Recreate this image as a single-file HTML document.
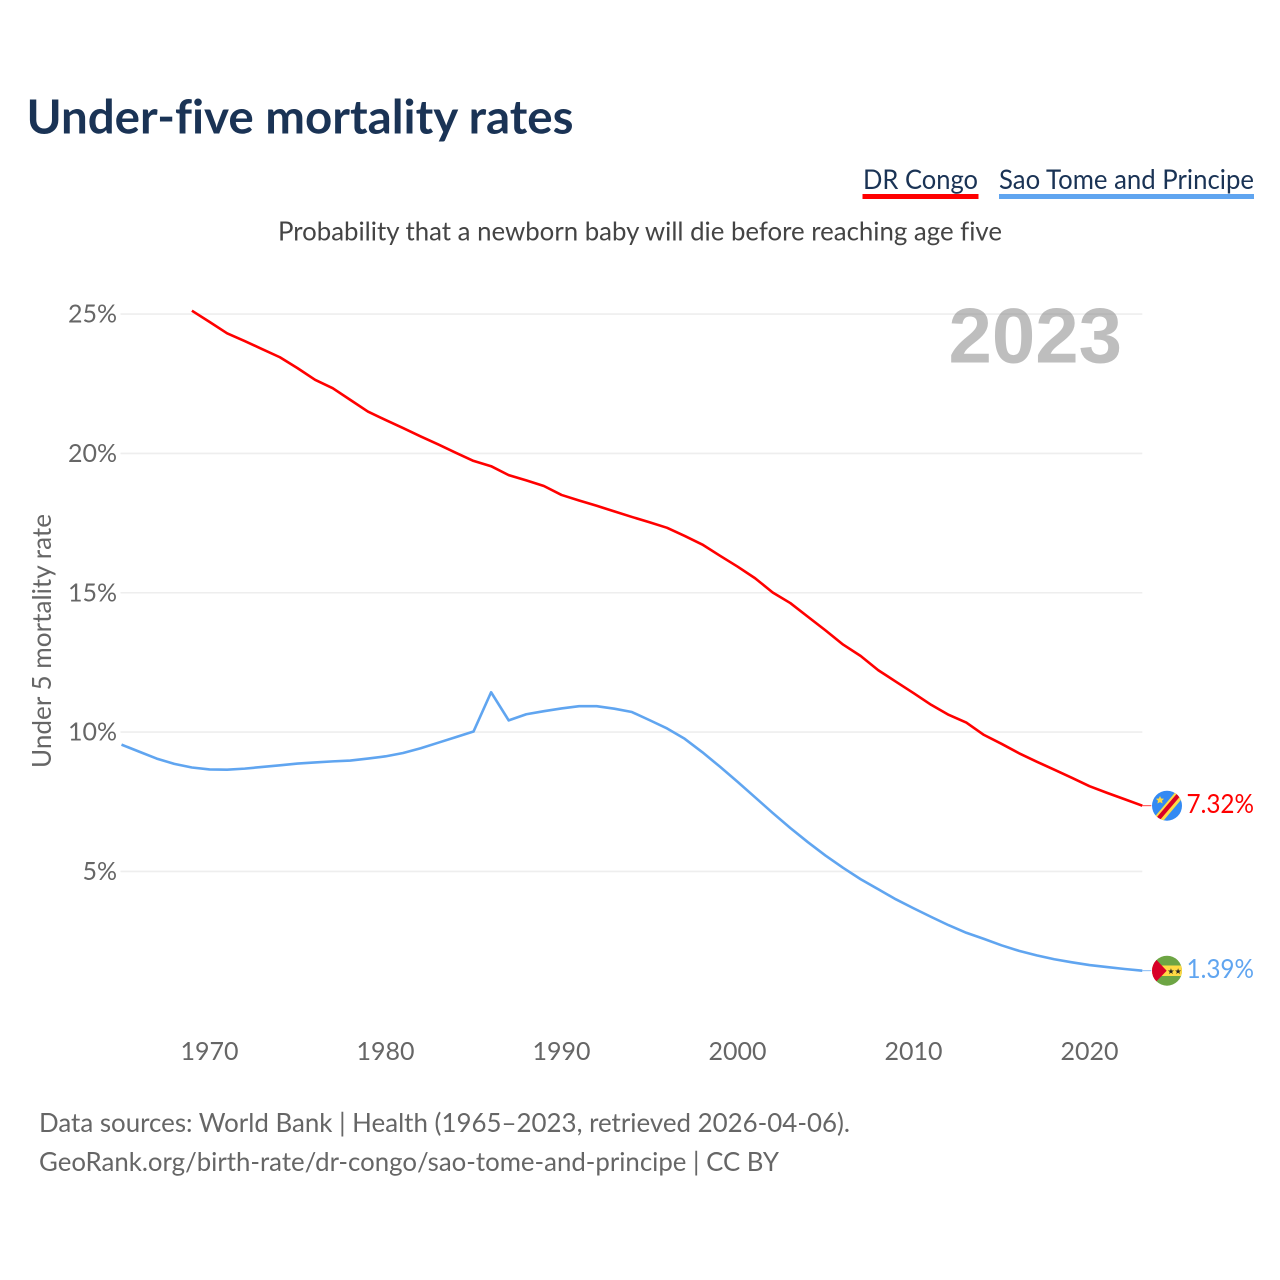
<!DOCTYPE html>
<html lang="en">
<head>
<meta charset="utf-8">
<title>Under-five mortality rates</title>
<style>
html,body{margin:0;padding:0;background:#fff;width:1280px;height:1280px;overflow:hidden}
svg{display:block}
text{font-family:"Lato","Carlito","Liberation Sans",sans-serif;font-variant-ligatures:none}
</style>
</head>
<body>
<svg id="chart" xmlns="http://www.w3.org/2000/svg" width="1280" height="1280" viewBox="0 0 1280 1280">
  <rect width="1280" height="1280" fill="#fff"/>
  <text x="26.5" y="133.5" font-size="47" font-weight="700" fill="#1a3355" textLength="547" lengthAdjust="spacingAndGlyphs">Under-five mortality rates</text>

  <g>
    <g>
      <text x="863" y="189" font-size="27" fill="#1a3355" textLength="115" lengthAdjust="spacingAndGlyphs">DR Congo</text>
      <rect x="862.5" y="194" width="116" height="5" fill="#ff0000"/>
    </g>
    <g>
      <text x="999" y="189" font-size="27" fill="#1a3355" textLength="255" lengthAdjust="spacingAndGlyphs">Sao Tome and Principe</text>
      <rect x="999" y="194" width="255" height="5" fill="#60a5f0"/>
    </g>
  </g>

  <text x="278" y="240.5" font-size="26" fill="#444" textLength="724" lengthAdjust="spacingAndGlyphs">Probability that a newborn baby will die before reaching age five</text>
  <text transform="translate(51,768) rotate(-90)" font-size="26" fill="#666" textLength="254" lengthAdjust="spacingAndGlyphs">Under 5 mortality rate</text>

  <g id="grid"></g>
  <g id="yticks"></g>
  <g id="xticks"></g>

  <text x="1122" y="362.5" font-size="78" font-weight="700" fill="#888888" fill-opacity="0.55" text-anchor="end" style="font-family:'Liberation Sans',sans-serif">2023</text>

  <g id="series"></g>

  <g>
    <clipPath id="clipCd"><circle cx="1167" cy="805.7" r="15"/></clipPath>
    <g clip-path="url(#clipCd)">
      <rect x="1150" y="788" width="34" height="36" fill="#338af3"/>
      <polygon points="1152,820 1178,789 1185,795 1159,826" fill="#ffda44"/>
      <polygon points="1154,820.5 1180,790 1183,793 1157,823.5" fill="#d80027"/>
      <polygon points="1160,796 1161.2,798.5 1164,798.8 1162,800.7 1162.6,803.5 1160,802.1 1157.4,803.5 1158,800.7 1156,798.8 1158.8,798.5" fill="#ffda44"/>
    </g>
  </g>
  <g>
    <clipPath id="clipSt"><circle cx="1167" cy="970.7" r="15"/></clipPath>
    <g clip-path="url(#clipSt)">
      <rect x="1150" y="953" width="34" height="36" fill="#6da544"/>
      <rect x="1150" y="965.5" width="34" height="10.5" fill="#ffda44"/>
      <polygon points="1150,953 1166.7,970.7 1150,988" fill="#d80027"/>
      <text x="1174.5" y="974" font-size="8" text-anchor="middle" fill="#222" style="font-family:'DejaVu Sans',sans-serif">★★</text>
    </g>
  </g>

  <text id="labelCd" x="1186.5" y="813" font-size="26" fill="#ff0000" textLength="67.5" lengthAdjust="spacingAndGlyphs"></text>
  <text id="labelSt" x="1186.5" y="978" font-size="26" fill="#60a5f0" textLength="67.5" lengthAdjust="spacingAndGlyphs"></text>

  <text x="39" y="1132" font-size="26" fill="#666" textLength="811" lengthAdjust="spacingAndGlyphs">Data sources: World Bank | Health (1965–2023, retrieved 2026-04-06).</text>
  <a><text x="39" y="1171" font-size="26" fill="#666" textLength="740" lengthAdjust="spacingAndGlyphs">GeoRank.org/birth-rate/dr-congo/sao-tome-and-principe | CC BY</text></a>
</svg>
<script>
const yTickValues = [5, 10, 15, 20, 25];
const xTickYears = [1970, 1980, 1990, 2000, 2010, 2020];
const congoStartYear = 1969;
const congoValues = [25.12,24.72,24.31,24.03,23.74,23.45,23.06,22.64,22.34,21.92,21.50,21.20,20.91,20.61,20.32,20.02,19.73,19.54,19.22,19.03,18.83,18.51,18.31,18.12,17.92,17.72,17.53,17.33,17.04,16.73,16.33,15.94,15.52,15.01,14.63,14.14,13.65,13.14,12.73,12.22,11.81,11.40,10.98,10.62,10.34,9.90,9.58,9.24,8.94,8.65,8.36,8.06,7.82,7.59,7.36];
const saoTomeStartYear = 1965;
const saoTomeValues = [9.55,9.30,9.05,8.86,8.73,8.66,8.65,8.69,8.75,8.81,8.87,8.91,8.95,8.98,9.05,9.13,9.25,9.42,9.62,9.82,10.02,11.43,10.42,10.64,10.75,10.85,10.93,10.93,10.84,10.72,10.43,10.13,9.76,9.28,8.76,8.22,7.66,7.10,6.56,6.05,5.57,5.13,4.72,4.36,4.00,3.68,3.37,3.07,2.80,2.58,2.35,2.15,1.99,1.85,1.74,1.64,1.57,1.50,1.44];
const valueLabels = ["7.32%", "1.39%"];

const NS = "http://www.w3.org/2000/svg";
const xScale = year => 209.5 + (year - 1970) * 17.6;
const yScale = value => 1010.8 - value * 27.87;
const plotLeft = xScale(1965) - 1;
const plotRight = xScale(2023);

function make(tag, attrs, parent) {
  const el = document.createElementNS(NS, tag);
  for (const k in attrs) el.setAttribute(k, attrs[k]);
  parent.appendChild(el);
  return el;
}

const grid = document.getElementById("grid");
const yticks = document.getElementById("yticks");
yTickValues.forEach(v => {
  const line = make("line", {x1: plotLeft, x2: plotRight, y1: yScale(v), y2: yScale(v), stroke: "#eeeeee", "stroke-width": 1.6}, grid);
  
  
  const t = make("text", {x: 117, y: yScale(v) + 8.5, "text-anchor": "end", "font-size": 25, fill: "#666"}, yticks);
  
  
  t.textContent = v + "%";
});

const xticks = document.getElementById("xticks");
xTickYears.forEach(y => {
  const t = make("text", {x: xScale(y), y: 1060, "text-anchor": "middle", "font-size": 25, fill: "#666"}, xticks);
  
  
  t.textContent = y;
});

function pathFor(values, startYear) {
  return values.map((v, i) => (i ? "L" : "M") + xScale(startYear + i).toFixed(2) + " " + yScale(v).toFixed(2)).join(" ");
}

const seriesGroup = document.getElementById("series");

const congoLine = make("path", {d: pathFor(congoValues, congoStartYear), fill: "none", stroke: "#ff0000", "stroke-width": 2.6, "stroke-linejoin": "round"}, seriesGroup);



const saoTomeLine = make("path", {d: pathFor(saoTomeValues, saoTomeStartYear), fill: "none", stroke: "#60a5f0", "stroke-width": 2.6, "stroke-linejoin": "round"}, seriesGroup);



const congoLast = yScale(congoValues[congoValues.length - 1]);
const congoStub = make("line", {x1: plotRight, x2: plotRight + 9, y1: congoLast, y2: congoLast, stroke: "#ff0000", "stroke-width": 1, opacity: 0.75}, seriesGroup);



const saoLast = yScale(saoTomeValues[saoTomeValues.length - 1]);
const saoStub = make("line", {x1: plotRight, x2: plotRight + 9, y1: saoLast, y2: saoLast, stroke: "#60a5f0", "stroke-width": 1, opacity: 0.75}, seriesGroup);



document.getElementById("labelCd").textContent = valueLabels[0];
document.getElementById("labelSt").textContent = valueLabels[1];
</script>
</body>
</html>
